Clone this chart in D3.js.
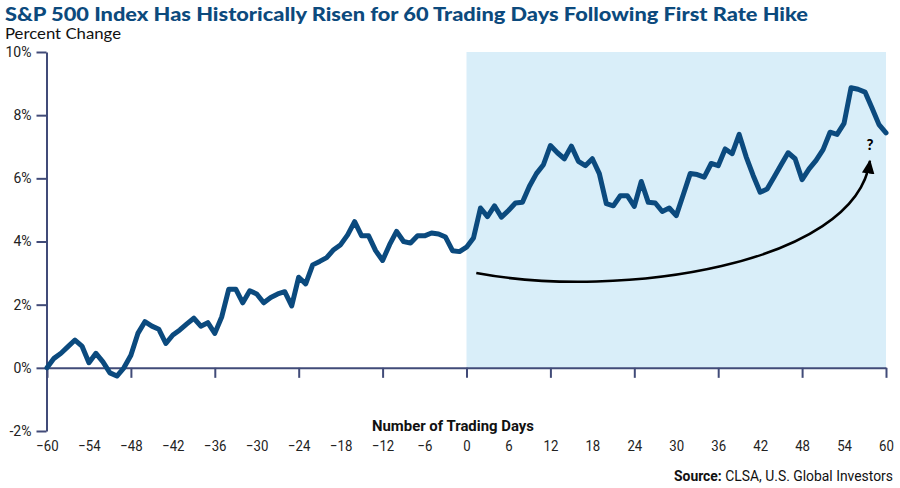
<!DOCTYPE html>
<html>
<head>
<meta charset="utf-8">
<script src="https://cdn.jsdelivr.net/npm/d3@7"></script>
<style>
  html, body { margin: 0; padding: 0; background: #fff; }
  svg { display: block; }
</style>
</head>
<body>
<svg id="chart" width="900" height="488"></svg>
<script>
// ---- data ----
const days = d3.range(-60, 61);
const pctChange = [
  0, 0.30, 0.46, 0.67, 0.88, 0.69, 0.16, 0.46, 0.19, -0.16,
  -0.26, 0, 0.40, 1.09, 1.46, 1.32, 1.22, 0.77, 1.04, 1.20,
  1.39, 1.57, 1.32, 1.43, 1.09, 1.62, 2.49, 2.49, 2.06, 2.44,
  2.34, 2.06, 2.23, 2.34, 2.41, 1.96, 2.87, 2.66, 3.26, 3.37,
  3.49, 3.74, 3.90, 4.21, 4.63, 4.18, 4.18, 3.71, 3.40, 3.90,
  4.32, 4.00, 3.95, 4.18, 4.18, 4.27, 4.24, 4.14, 3.71, 3.68,
  3.82,
  4.11, 5.06, 4.79, 5.13, 4.77, 4.98, 5.22, 5.24, 5.75, 6.15,
  6.43, 7.04, 6.81, 6.62, 7.02, 6.54, 6.40, 6.62, 6.15, 5.20,
  5.13, 5.45, 5.45, 5.11, 5.90, 5.24, 5.22, 4.95, 5.06, 4.82,
  5.48, 6.15, 6.12, 6.04, 6.47, 6.40, 6.93, 6.78, 7.39, 6.68,
  6.09, 5.56, 5.66, 6.04, 6.43, 6.81, 6.62, 5.96, 6.30, 6.57,
  6.91, 7.46, 7.39, 7.74, 8.87, 8.82, 8.73, 8.23, 7.70, 7.44
];
const xTickLabels = d3.range(-60, 61, 6);
const xTickMarks = d3.range(-60, 61, 12);
const yTicks = [-2, 0, 2, 4, 6, 8, 10];
const shadedDays = [0, 60];
// arrow annotation (day, percent): start, control1, control2, end
const arrowPts = [[1.4, 3.0], [22.0, 2.15], [55.6, 3.26], [57.7, 6.55]];

const titleText = "S&P 500 Index Has Historically Risen for 60 Trading Days Following First Rate Hike";
const subtitleText = "Percent Change";
const xTitleText = "Number of Trading Days";

// ---- scales ----
const svg = d3.select("#chart");
const x = d3.scaleLinear().domain([-60, 60]).range([47, 886]);
const y = d3.scaleLinear().domain([-2, 10]).range([431, 52]);

const axisColor = "#414b78";
const lineColor = "#0b4a7e";

// shaded region
svg.append("rect")
  .attr("x", x(shadedDays[0]))
  .attr("y", y(10))
  .attr("width", x(shadedDays[1]) - x(shadedDays[0]))
  .attr("height", y(0) - y(10))
  .attr("fill", "#d9eef9");

// titles
svg.append("text")
  .attr("x", 5).attr("y", 21)
  .attr("font-family", "Lato, 'Open Sans', sans-serif")
  .attr("font-weight", 900)
  .attr("font-size", 19)
  .attr("fill", "#0c4a7d")
  .attr("textLength", 803)
  .attr("lengthAdjust", "spacingAndGlyphs")
  .text(titleText);

svg.append("text")
  .attr("x", 5).attr("y", 39)
  .attr("font-family", "Lato, 'Open Sans', sans-serif")
  .attr("font-size", 15)
  .attr("fill", "#111")
  .attr("textLength", 116)
  .attr("lengthAdjust", "spacingAndGlyphs")
  .text(subtitleText);

// y axis
const yAxis = svg.append("g")
  .attr("transform", `translate(${x(-60) - 0.5},0)`)
  .call(d3.axisLeft(y).tickValues(yTicks).tickSize(10).tickSizeOuter(0).tickPadding(5)
    .tickFormat(d => d + "%"));
yAxis.selectAll("path.domain").attr("stroke", axisColor).attr("stroke-width", 2);
yAxis.selectAll(".tick line").attr("stroke", axisColor).attr("stroke-width", 2);
yAxis.selectAll(".tick text")
  .attr("font-family", "Roboto, sans-serif")
  .attr("font-size", 14)
  .attr("fill", "#222");

// x axis line at 0 with tick marks
const xAxis = svg.append("g")
  .attr("transform", `translate(0,${y(0)})`)
  .call(d3.axisBottom(x).tickValues(xTickMarks).tickSize(10).tickSizeOuter(0).tickFormat(""));
xAxis.select("path.domain").attr("stroke", axisColor).attr("stroke-width", 2);
xAxis.selectAll(".tick line").attr("stroke", axisColor).attr("stroke-width", 2);

// x tick labels at bottom
const xLab = svg.append("g")
  .attr("transform", `translate(0,437)`)
  .call(d3.axisBottom(x).tickValues(xTickLabels).tickSize(0).tickPadding(3));
xLab.select("path.domain").remove();
xLab.selectAll(".tick text")
  .attr("font-family", "Roboto, sans-serif")
  .attr("font-size", 15)
  .attr("fill", "#222")
  .attr("transform", "scale(0.88,1)");

// x title
svg.append("text")
  .attr("x", 453).attr("y", 431)
  .attr("text-anchor", "middle")
  .attr("font-family", "Roboto, sans-serif")
  .attr("font-weight", 700)
  .attr("font-size", 14)
  .attr("fill", "#111")
  .attr("textLength", 162)
  .attr("lengthAdjust", "spacingAndGlyphs")
  .text(xTitleText);

// data line
const line = d3.line()
  .x((d, i) => x(days[i]))
  .y(d => y(d));
svg.append("path")
  .datum(pctChange)
  .attr("d", line)
  .attr("fill", "none")
  .attr("stroke", lineColor)
  .attr("stroke-width", 5)
  .attr("stroke-linejoin", "round")
  .attr("stroke-linecap", "round");

// arrow annotation
const defs = svg.append("defs");
defs.append("marker")
  .attr("id", "arrowhead")
  .attr("viewBox", "0 0 10 10")
  .attr("refX", 9).attr("refY", 5)
  .attr("markerUnits", "userSpaceOnUse")
  .attr("markerWidth", 14).attr("markerHeight", 14)
  .attr("orient", "auto")
  .append("path")
  .attr("d", "M0,0.5 L10,5 L0,9.5 Z")
  .attr("fill", "#000");

const ap = arrowPts.map(p => [x(p[0]), y(p[1])]);
const arrowPath = d3.path();
arrowPath.moveTo(ap[0][0], ap[0][1]);
arrowPath.bezierCurveTo(ap[1][0], ap[1][1], ap[2][0], ap[2][1], ap[3][0], ap[3][1]);
svg.append("path")
  .attr("d", arrowPath.toString())
  .attr("fill", "none")
  .attr("stroke", "#000")
  .attr("stroke-width", 2.5)
  .attr("marker-end", "url(#arrowhead)");

svg.append("text")
  .attr("x", x(arrowPts[3][0])).attr("y", y(arrowPts[3][1]) - 11)
  .attr("text-anchor", "middle")
  .attr("font-family", "Lato, sans-serif")
  .attr("font-weight", 900)
  .attr("font-size", 15)
  .attr("fill", "#000")
  .text("?");

// source
const src = svg.append("text")
  .attr("x", 893).attr("y", 481)
  .attr("text-anchor", "end")
  .attr("font-family", "Roboto, sans-serif")
  .attr("font-size", 14)
  .attr("fill", "#111")
  .attr("textLength", 219)
  .attr("lengthAdjust", "spacingAndGlyphs");
src.append("tspan").attr("font-weight", 700).text("Source:");
src.append("tspan").text(" CLSA, U.S. Global Investors");
</script>
</body>
</html>
